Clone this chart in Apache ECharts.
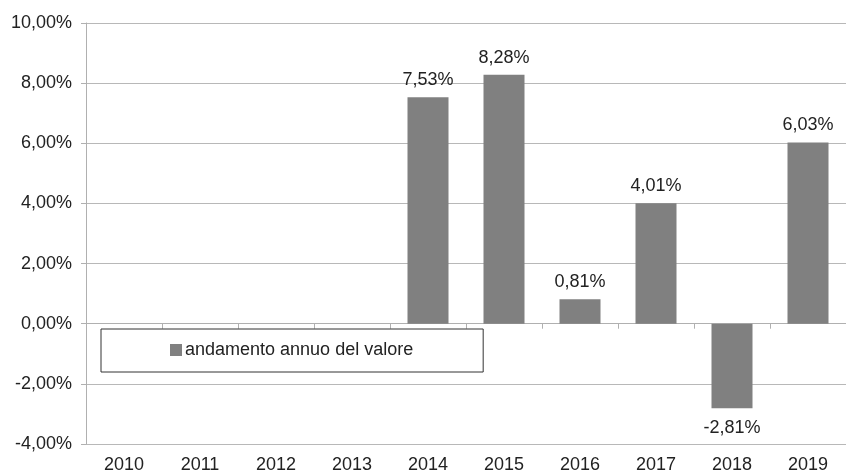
<!DOCTYPE html>
<html><head><meta charset="utf-8">
<script src="https://cdn.jsdelivr.net/npm/echarts@6/dist/echarts.min.js"></script>
<style>html,body{margin:0;padding:0;background:#fff}#c{width:846px;height:474px}</style>
</head><body><div id="c"></div>
<script>
const categories = ['2010','2011','2012','2013','2014','2015','2016','2017','2018','2019'];
const values = [null, null, null, null, 7.53, 8.28, 0.81, 4.01, -2.81, 6.03];
const seriesName = 'andamento annuo del valore';
const yTicks = [-4, -2, 0, 2, 4, 6, 8, 10];

const fmt = v => v.toFixed(2).replace('.', ',') + '%';
const font = '"Liberation Sans", Arial, sans-serif';

const chart = echarts.init(document.getElementById('c'));
chart.setOption({
  animation: false,
  backgroundColor: '#fff',
  grid: { left: 86, top: 23, width: 766, bottom: 30, containLabel: false },
  legend: {
    show: true,
    left: 101, top: 329,
    padding: [12, 70, 13, 69],
    backgroundColor: '#fff',
    borderColor: '#333', borderWidth: 1,
    itemWidth: 12, itemHeight: 12, itemGap: 3,
    icon: 'rect',
    textStyle: { fontFamily: font, fontSize: 18, color: '#222', padding: [0, 0, 0, -2] },
    data: [seriesName]
  },
  xAxis: [
    {
      type: 'category', data: categories, position: 'bottom',
      axisLine: { show: false, onZero: false },
      axisTick: { show: false },
      axisLabel: { fontFamily: font, fontSize: 18, color: '#222', margin: 12 },
      splitLine: { show: false }
    },
    {
      type: 'category', data: categories, position: 'bottom',
      axisLine: { show: true, onZero: true, lineStyle: { color: '#b0b0b0', width: 1 } },
      axisTick: { show: true, length: 5, lineStyle: { color: '#b0b0b0' } },
      axisLabel: { show: false },
      splitLine: { show: false }
    }
  ],
  yAxis: {
    type: 'value', min: yTicks[0], max: yTicks[yTicks.length - 1], interval: 2,
    axisLine: { show: true, lineStyle: { color: '#b0b0b0' } },
    axisTick: { show: true, length: 5, lineStyle: { color: '#b0b0b0' } },
    axisLabel: { fontFamily: font, fontSize: 18, color: '#222', margin: 14, formatter: v => fmt(v) },
    splitLine: { show: true, lineStyle: { color: '#b8b8b8', width: 1 } }
  },
  series: [{
    name: seriesName,
    type: 'bar',
    xAxisIndex: 0,
    barWidth: 41,
    itemStyle: { color: '#808080' },
    data: values.map(v => v === null ? null : {
      value: v,
      label: v < 0 ? { position: 'bottom', distance: 11 } : { position: 'top', distance: 8 }
    }),
    label: {
      show: true,
      fontFamily: font, fontSize: 18, color: '#222',
      formatter: p => fmt(p.value)
    }
  }]
});
</script></body></html>
